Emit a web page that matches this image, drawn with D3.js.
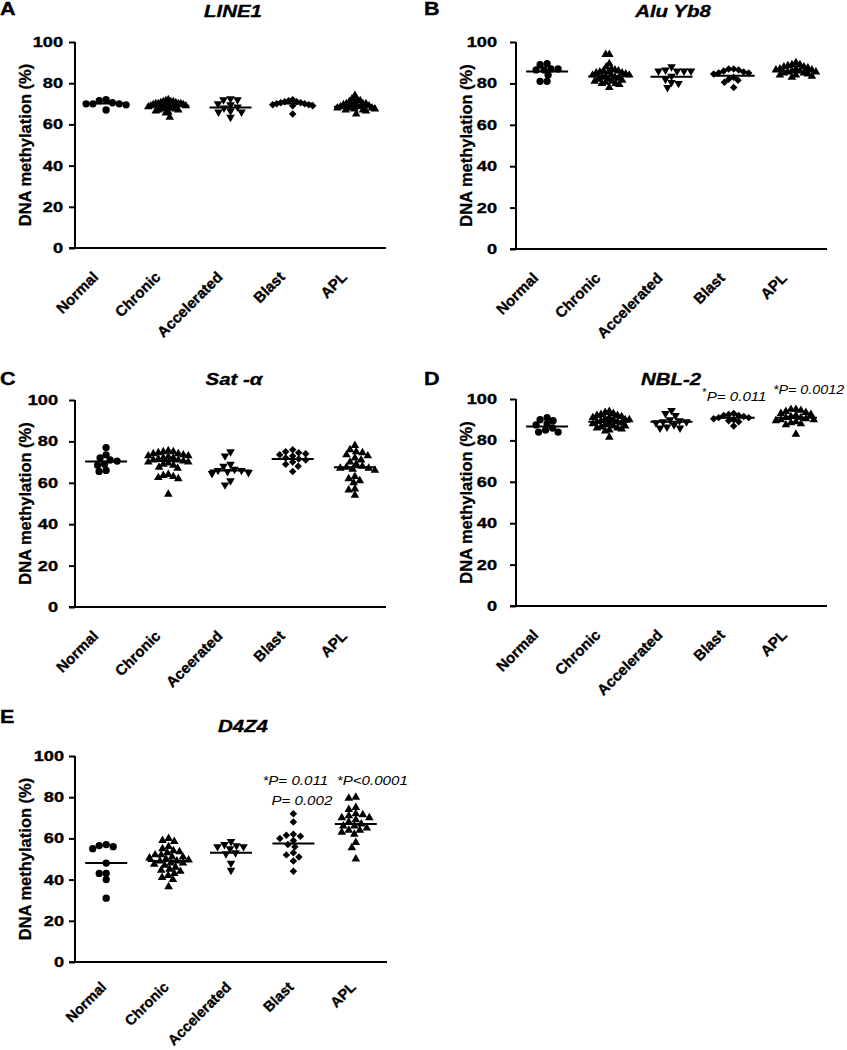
<!DOCTYPE html>
<html><head><meta charset="utf-8">
<script src="https://cdn.jsdelivr.net/npm/d3@7"></script>
<style>body{margin:0;background:#fff} text{font-family:Arial,"Liberation Sans",sans-serif;fill:#000}</style>
</head><body><svg id="c" width="847" height="1050"></svg>
<script>
// ---------- data ----------
const categories = ["Normal", "Chronic", "Accelerated", "Blast", "APL"];
const categoriesSat = ["Normal", "Chronic", "Aceerated", "Blast", "APL"];
const groupShapes = ["circle", "triangle", "triangleDown", "diamond", "triangle"];
const yTicks = [0, 20, 40, 60, 80, 100];

const line1Values = [
  [72, 71.5, 70.5, 70, 70, 70, 69.5, 67],
  [72, 71.5, 71, 71, 71, 70.5, 70.5, 70, 70, 70, 70, 69.5, 69.5, 69, 69, 69, 68.5, 68.5, 68, 68, 68, 67.5, 67.5, 67, 67, 66.5, 66, 65.5, 63.5],
  [72.5, 72, 72, 70, 69.5, 68.5, 68, 66.5, 66, 66, 63.5],
  [72, 71.5, 71, 71, 70.5, 70.5, 70, 70, 69.5, 69.5, 69, 69, 65],
  [74, 72.5, 72, 71.5, 71, 70.5, 70, 70, 70, 69.5, 69, 69, 69, 68.5, 68.5, 68, 68, 68, 67.5, 67.5, 67, 67, 66.5, 65]
];
const line1Centers = [70.2, 69, 68.2, 70.2, 68.6];

const aluValues = [
  [89.5, 89, 87, 87, 86.5, 86.5, 84, 81, 81],
  [94, 94, 89.5, 88, 87, 86.5, 86, 86, 85.5, 85.5, 85, 85, 84.5, 84, 84, 84, 83.5, 83, 83, 82.5, 82, 82, 81.5, 81, 81, 80.5, 80, 80, 79.5, 78],
  [88, 86.5, 86, 86, 86, 86, 83.5, 82, 80.5, 80, 78],
  [87, 87, 86.5, 86, 85.5, 85, 85, 84.5, 83, 82, 81.5, 80.5, 78],
  [90, 89, 89, 88.5, 88, 88, 87.5, 87, 87, 86.5, 86.5, 86, 86, 85.5, 85.5, 85, 85, 84.5, 84, 84, 83.5, 83]
];
const aluCenters = [85.7, 83.5, 83.2, 83.7, 86];

const satValues = [
  [77, 73.5, 72, 71, 70.5, 69, 68.5, 66, 65.5],
  [75.5, 75, 75, 74.5, 74, 74, 73.5, 73, 73, 72.5, 72, 72, 71.5, 71, 71, 70.5, 70, 70, 69.5, 69, 68.5, 67.5, 67, 64, 63.5, 63, 62.5, 62, 54.5],
  [75, 73, 69, 68, 66.5, 66, 66, 65.5, 65, 64.5, 61, 59],
  [76, 75, 74.5, 74, 73.5, 73, 72, 71.5, 71, 70, 69, 68, 65.5],
  [78, 76, 75, 74.5, 73.5, 73, 72, 71, 70, 69, 68, 67.5, 67, 67, 66.5, 66, 63, 62, 61, 60, 57, 56.5, 54]
];
const satCenters = [70.3, 70.5, 66, 71.5, 67.5];

const nblValues = [
  [91, 90, 89.5, 88, 87.5, 86, 85, 84, 84],
  [94, 93.5, 93, 92.5, 92, 92, 91.5, 91, 91, 90.5, 90, 90, 90, 89.5, 89, 89, 88.5, 88, 88, 87.5, 87, 87, 86.5, 86, 86, 85.5, 85, 84.5, 81.5],
  [94.5, 93, 92, 90, 89.5, 89, 89, 88.5, 87.5, 86.5, 86, 86],
  [93, 92.5, 92, 92, 91.5, 91, 91, 90.5, 90, 89.5, 89, 87],
  [95, 95, 94.5, 94, 93.5, 93, 92.5, 92, 91.5, 91, 91, 90.5, 90, 90, 89.5, 89, 88.5, 88, 87.5, 83]
];
const nblCenters = [86.7, 89, 89, 91, 91];

const d4z4Values = [
  [57, 56.5, 56, 55, 48, 43, 43, 40, 31],
  [60, 59, 58.5, 56, 55, 54, 53.5, 53, 52, 52, 51, 51, 50.5, 50, 49.5, 49, 49, 48, 48, 47.5, 47, 46, 45, 44.5, 44, 43, 42, 41, 40, 36.5],
  [58.5, 57, 56.5, 56, 56, 55, 53, 52.5, 48, 44.5],
  [72, 68, 62, 61.5, 61, 60, 59, 57, 56, 53, 52, 51, 49, 44],
  [80, 79.5, 75, 74, 72, 71.5, 71, 70, 70, 69, 68, 67, 66, 66, 65, 64, 64, 63, 62, 58, 55.5, 50]
];
const d4z4Centers = [48, 49, 53, 57.5, 67];

const panelLetters = ["A", "B", "C", "D", "E"];
const panelTitles = ["LINE1", "Alu Yb8", "Sat -α", "NBL-2", "D4Z4"];
const yAxisTitle = "DNA methylation (%)";

// p-value notes: panel index, category index, text
const pNoteText = ["*", "P= 0.011", "*P= 0.0012", "*P= 0.011", "*P<0.0001", "P= 0.002"];
const pNotePanel = [3, 3, 3, 4, 4, 4];
const pNoteCat = [3, 3, 4, 3, 4, 3];

// ---------- layout ----------
const svg = d3.select("#c");
svg.append("rect").attr("width", 847).attr("height", 1050).attr("fill", "#fff");

const panels = [
  {values: line1Values, centers: line1Centers, cats: categories, x0: 75, x1: 386, top: 42, bottom: 248, gap: 12, lx: 0, ly: 15, tx: 233, ty: 17, ldx: -7, ldy: 30, lfs: 15},
  {values: aluValues, centers: aluCenters, cats: categories, x0: 516, x1: 827, top: 42, bottom: 249, gap: 19, lx: 424, ly: 15, tx: 673, ty: 17, ldx: -8, ldy: 30, lfs: 15},
  {values: satValues, centers: satCenters, cats: categoriesSat, x0: 75, x1: 386, top: 400, bottom: 607, gap: 17, lx: 0, ly: 385, tx: 234, ty: 385, ldx: -7, ldy: 30, lfs: 15},
  {values: nblValues, centers: nblCenters, cats: categories, x0: 516, x1: 827, top: 399, bottom: 606, gap: 19, lx: 424, ly: 385, tx: 671, ty: 385, ldx: -8, ldy: 30, lfs: 15},
  {values: d4z4Values, centers: d4z4Centers, cats: categories, x0: 75, x1: 387, top: 756, bottom: 962, gap: 11, lx: 0, ly: 723, tx: 243, ty: 732, ldx: 1, ldy: 26, lfs: 14.5}
];
// placement of p-value notes relative to category centre (layout only)
const pNoteLayout = [
  {dx: -32, dy: 396, size: 10}, {dx: -27, dy: 401}, {dx: -23, dy: 394, sx: 1.06},
  {dx: -31, dy: 785}, {dx: -19, dy: 785}, {dx: -22, dy: 805}
];

function stretchText(g, x, y, str, size, opts = {}) {
  const sx = opts.sx || 1.2;
  const t = g.append("text")
    .attr("transform", `translate(${x},${y}) scale(${sx},1)`)
    .attr("font-size", size)
    .attr("font-weight", opts.weight || "bold")
    .attr("font-style", opts.style || "normal")
    .attr("text-anchor", opts.anchor || "start")
    .text(str);
  if ((opts.weight || "bold") === "bold") t.attr("stroke", "#000").attr("stroke-width", 0.35);
  return t;
}

function swarm(vals, y, maxHalf) {
  const placed = [];
  const rx = 7, ry = 6;
  vals.forEach(v => {
    const py = y(v);
    let off = 0;
    for (let k = 0; k < 400; k++) {
      const cand = (k % 2 === 0 ? 1 : -1) * Math.ceil(k / 2) * 0.5;
      const hit = placed.some(q => {
        const a = (cand - q.off) / rx, b = (py - q.y) / ry;
        return a * a + b * b < 1;
      });
      if (!hit) { off = cand; break; }
    }
    placed.push({v, y: py, off});
  });
  const m = d3.max(placed, d => Math.abs(d.off));
  if (m > maxHalf) placed.forEach(d => d.off *= maxHalf / m);
  return placed;
}

const symGen = {
  circle: d3.symbol().type(d3.symbolCircle).size(42),
  triangle: d3.symbol().type(d3.symbolTriangle).size(32),
  triangleDown: d3.symbol().type(d3.symbolTriangle).size(32),
  diamond: d3.symbol().type(d3.symbolSquare).size(28)
};
const symRot = {circle: 0, triangle: 0, triangleDown: 180, diamond: 45};

panels.forEach((p, pi) => {
  const g = svg.append("g");
  const y = d3.scaleLinear().domain([0, 100]).range([p.bottom, p.top]);
  const x = d3.scaleBand().domain(p.cats).range([p.x0, p.x1]).padding(0);
  p.x = x;

  // y axis
  const ya = g.append("g").attr("transform", `translate(${p.x0},0)`)
    .call(d3.axisLeft(y).tickValues(yTicks).tickSize(6).tickFormat(""));
  ya.select(".domain").attr("stroke", "#000").attr("stroke-width", 2).attr("d", `M0,${p.top}V${p.bottom}`);
  ya.selectAll(".tick line").attr("stroke", "#000").attr("stroke-width", 2);
  yTicks.forEach(t => {
    stretchText(g, p.x0 - p.gap, y(t) + 5, String(t), 14, {anchor: "end", sx: 1.3});
  });

  // x axis
  const xa = g.append("g").attr("transform", `translate(0,${p.bottom})`)
    .call(d3.axisBottom(x).tickSize(0).tickFormat(""));
  xa.select(".domain").attr("stroke", "#000").attr("stroke-width", 2).attr("d", `M${p.x0 - 6},0H${p.x1}`);

  p.cats.forEach(c => {
    g.append("text")
      .attr("transform", `translate(${x(c) + x.bandwidth() / 2 + p.ldx},${p.bottom + p.ldy}) rotate(-45)`)
      .attr("font-size", p.lfs).attr("font-weight", "bold").attr("text-anchor", "end")
      .attr("stroke", "#000").attr("stroke-width", 0.35)
      .text(c);
  });

  // y title
  g.append("text")
    .attr("transform", `translate(${p.x0 - 44},${(p.top + p.bottom) / 2}) rotate(-90)`)
    .attr("font-size", 16.5).attr("font-weight", "bold").attr("text-anchor", "middle")
    .attr("stroke", "#000").attr("stroke-width", 0.3)
    .text(yAxisTitle);

  // letter & title
  stretchText(g, p.lx, p.ly, panelLetters[pi], 18);
  stretchText(g, p.tx, p.ty, panelTitles[pi], 17, {anchor: "middle", style: "italic"});

  // points
  p.values.forEach((vals, ci) => {
    const cx = x(p.cats[ci]) + x.bandwidth() / 2;
    const shape = groupShapes[ci];
    const pts = swarm(vals, y, 20);
    g.append("g").selectAll("path").data(pts).join("path")
      .attr("d", symGen[shape])
      .attr("transform", d => `translate(${cx + d.off},${d.y}) rotate(${symRot[shape]})`)
      .attr("fill", "#000");
    g.append("line")
      .attr("x1", cx - 21).attr("x2", cx + 21)
      .attr("y1", y(p.centers[ci])).attr("y2", y(p.centers[ci]))
      .attr("stroke", "#000").attr("stroke-width", 2);
  });
});

// p-value annotations
pNoteText.forEach((t, i) => {
  const p = panels[pNotePanel[i]];
  const c = p.cats[pNoteCat[i]];
  const cx = p.x(c) + p.x.bandwidth() / 2;
  const L = pNoteLayout[i];
  stretchText(svg, cx + L.dx, L.dy, t, L.size || 13.5, {weight: "normal", style: "italic", sx: L.sx || 1.12});
});
</script></body></html>
